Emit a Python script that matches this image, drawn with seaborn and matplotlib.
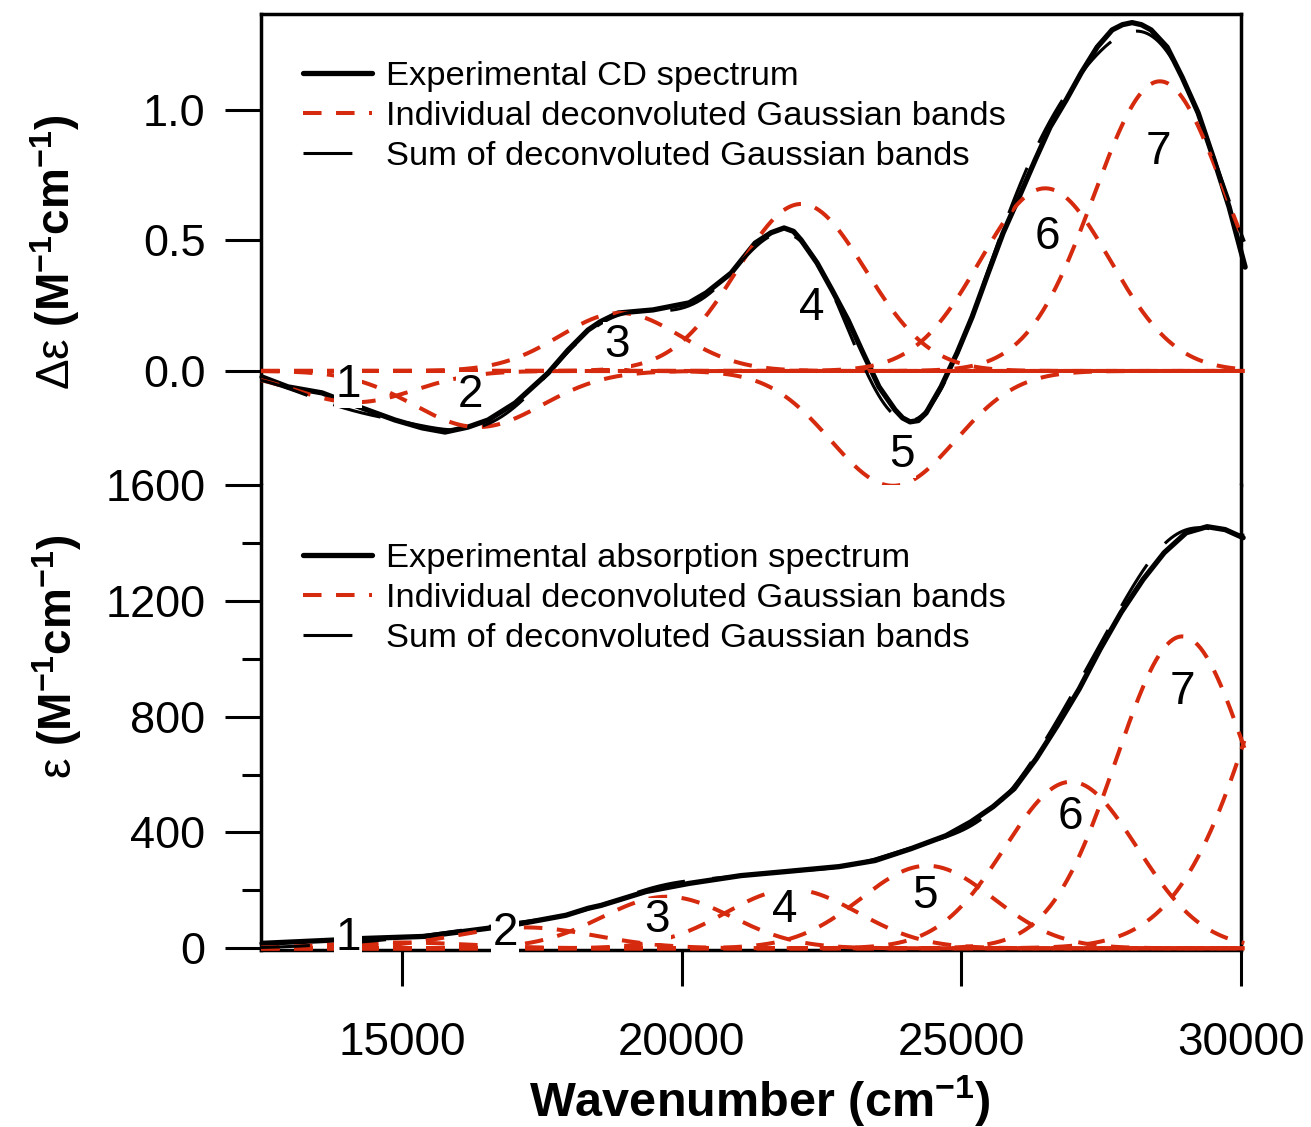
import numpy as np
import matplotlib
matplotlib.use("Agg")
import matplotlib.pyplot as plt
import seaborn as sns
from matplotlib.lines import Line2D

# --- experimental CD spectrum (wavenumber in cm-1, delta epsilon in M-1 cm-1)
cd_wavenumber = [12498, 12963, 13571, 14286, 14876, 15359, 15770, 16181, 16539, 17022,
                 17612, 17969, 18327, 18541, 18863, 19489, 20133, 20437, 20884, 21313,
                 21600, 21831, 22000, 22135, 22421, 22689, 22975, 23243, 23529, 23815,
                 23950, 24084, 24230, 24370, 24638, 24924, 25193, 25479, 25747, 26033,
                 26319, 26587, 26873, 27142, 27428, 27696, 27880, 28053, 28220, 28393,
                 28679, 28947, 29234, 29520, 29788, 30074]
cd_delta_eps = [-0.023, -0.061, -0.084, -0.142, -0.188, -0.218, -0.234, -0.215, -0.188, -0.123,
                -0.008, 0.080, 0.157, 0.188, 0.222, 0.234, 0.261, 0.299, 0.375, 0.490,
                0.530, 0.548, 0.535, 0.502, 0.414, 0.310, 0.195, 0.069, -0.061, -0.149,
                -0.180, -0.195, -0.190, -0.161, -0.061, 0.069, 0.207, 0.375, 0.529, 0.667,
                0.808, 0.935, 1.038, 1.142, 1.241, 1.307, 1.327, 1.335, 1.327, 1.307,
                1.241, 1.126, 0.989, 0.808, 0.628, 0.398]

# --- experimental absorption spectrum (epsilon in M-1 cm-1)
abs_wavenumber = [12498, 13749, 14340, 15412, 16539, 17147, 17933, 18327, 18559, 19364,
                  20133, 21062, 21867, 22815, 23458, 24102, 24728, 25175, 25568, 25944,
                  26337, 26712, 27106, 27481, 27857, 28250, 28626, 29019, 29394, 29716, 30038]
abs_eps = [17, 28, 34, 41, 69, 86, 114, 138, 148, 196,
           224, 251, 265, 282, 303, 344, 389, 437, 489, 551,
           654, 768, 895, 1033, 1160, 1274, 1366, 1435, 1456, 1446, 1418]

# --- deconvoluted Gaussian bands (centre, height, standard deviation)
cd_band_centers = [14160, 16360, 18900, 22140, 23780, 26500, 28550]
cd_band_heights = [-0.12, -0.215, 0.222, 0.64, -0.44, 0.70, 1.11]
cd_band_widths = [1070, 1145, 1075, 1145, 1110, 1160, 1180]

abs_band_centers = [14970, 17200, 19740, 21970, 24390, 26960, 28950, 32150]
abs_band_heights = [20, 72, 178, 203, 285, 575, 1077, 1700]
abs_band_widths = [1250, 1250, 1160, 1180, 1180, 1180, 1180, 1590]

# --- band numbers
band_labels = ["1", "2", "3", "4", "5", "6", "7"]
cd_label_x = [14036, 16217, 18845, 22332, 23941, 26534, 28518]
cd_label_y = [-0.054, -0.092, 0.10, 0.241, -0.322, 0.513, 0.839]
abs_label_x = [14036, 16843, 19560, 21849, 24352, 26945, 28947]
abs_label_y = [34, 52, 96, 131, 182, 454, 885]

RED = "#d62a0e"
W, H = 1311, 1127
RED_DASH = (0, (4.6, 3.6))
SUM_DASH = (0, (16, 9))


def gaussian(x, center, height, width):
    return height * np.exp(-(x - center) ** 2 / (2.0 * width ** 2))


def box(left, top, right, bottom):
    return [left / W, 1 - bottom / H, (right - left) / W, (bottom - top) / H]


sns.set_style("ticks", rc={"axes.edgecolor": "black", "xtick.color": "black",
                           "ytick.color": "black", "text.color": "black",
                           "axes.labelcolor": "black"})
plt.rcParams["font.family"] = ["Liberation Sans", "DejaVu Sans"]
plt.rcParams["mathtext.fontset"] = "custom"
plt.rcParams["mathtext.rm"] = "Liberation Sans"
plt.rcParams["mathtext.it"] = "Liberation Sans:italic"
plt.rcParams["mathtext.bf"] = "Liberation Sans:bold"

fig = plt.figure(figsize=(W / 100, H / 100), dpi=100)
ax_cd = fig.add_axes(box(261, 14, 1241, 485))
ax_abs = fig.add_axes(box(261, 485, 1241, 950))

grid = np.linspace(12480, 30060, 700)


def draw_panel(ax, wn, spec, centers, heights, widths, xs, ys):
    sns.lineplot(x=wn, y=spec, ax=ax, color="black", linewidth=3.8, sort=False,
                 estimator=None, clip_on=False, zorder=3)
    total = np.zeros_like(grid)
    for c, h, w in zip(centers, heights, widths):
        band = gaussian(grid, c, h, w)
        total += band
        sns.lineplot(x=grid, y=band, ax=ax, color=RED, linewidth=2.9, sort=False,
                     estimator=None, linestyle=RED_DASH, clip_on=False, zorder=3)
    sns.lineplot(x=grid, y=total, ax=ax, color="black", linewidth=2.2, sort=False,
                 estimator=None, linestyle=SUM_DASH, clip_on=False, zorder=4)
    for lab, x, y in zip(band_labels, xs, ys):
        ax.text(x, y, lab, fontsize=33, ha="center", va="center", zorder=6, clip_on=False,
                bbox=dict(boxstyle="square,pad=0.02", fc="white", ec="none"))


draw_panel(ax_cd, cd_wavenumber, cd_delta_eps, cd_band_centers, cd_band_heights,
           cd_band_widths, cd_label_x, cd_label_y)
draw_panel(ax_abs, abs_wavenumber, abs_eps, abs_band_centers, abs_band_heights,
           abs_band_widths, abs_label_x, abs_label_y)

# axes ranges and ticks
for ax in (ax_cd, ax_abs):
    ax.set_xlim(12480, 30000)
    ax.set_xlabel("")
    ax.set_ylabel("")
    for s in ax.spines.values():
        s.set_linewidth(2.5)
    ax.tick_params(axis="y", which="major", direction="out", length=26, width=2.2,
                   pad=14, labelsize=32.5)
    ax.tick_params(axis="y", which="minor", direction="out", length=14, width=2.2)

ax_cd.set_ylim(-0.437, 1.368)
ax_cd.set_yticks([0.0, 0.5, 1.0])
ax_cd.set_yticklabels(["0.0", "0.5", "1.0"])
ax_cd.set_xticks([])
ax_cd.spines["bottom"].set_visible(False)

ax_abs.set_ylim(-6, 1600)
ax_abs.set_yticks([0, 400, 800, 1200, 1600])
ax_abs.set_yticks([200, 600, 1000, 1400], minor=True)
ax_abs.set_xticks([15000, 20000, 25000, 30000])
ax_abs.set_xticklabels(["15000", "20000", "25000", "30000"])
ax_abs.tick_params(axis="x", which="major", direction="out", length=26, width=2.2,
                   pad=25, labelsize=33)
ax_abs.spines["top"].set_visible(False)

# legends
handles = [Line2D([], [], color="black", linewidth=3.8),
           Line2D([], [], color=RED, linewidth=2.9, linestyle=RED_DASH),
           Line2D([], [], color="black", linewidth=2.2, linestyle=SUM_DASH)]
legend_kw = dict(loc="upper left", bbox_transform=fig.transFigure, frameon=False,
                 fontsize=24.8, handlelength=2.0, handletextpad=0.4, labelspacing=0.25,
                 borderpad=0, borderaxespad=0)
ax_cd.legend(handles, ["Experimental CD spectrum",
                       "Individual deconvoluted Gaussian bands",
                       "Sum of deconvoluted Gaussian bands"],
             bbox_to_anchor=(303 / W, 1 - 61 / H), **legend_kw)
ax_abs.legend(handles, ["Experimental absorption spectrum",
                        "Individual deconvoluted Gaussian bands",
                        "Sum of deconvoluted Gaussian bands"],
              bbox_to_anchor=(303 / W, 1 - 543 / H), **legend_kw)

# axis titles
fig.text(55 / W, 1 - 252 / H, "Δε $\\mathbf{(M^{-1}cm^{-1})}$", rotation=90,
         ha="center", va="center", fontsize=33)
fig.text(57 / W, 1 - 657 / H, "ε $\\mathbf{(M^{-1}cm^{-1})}$", rotation=90,
         ha="center", va="center", fontsize=33)
fig.text(760 / W, 1 - 1117 / H, "Wavenumber (cm$^{\\mathbf{-1}}$)", fontweight="bold",
         fontsize=35, ha="center", va="baseline")

fig.savefig("out.png", dpi=100)
